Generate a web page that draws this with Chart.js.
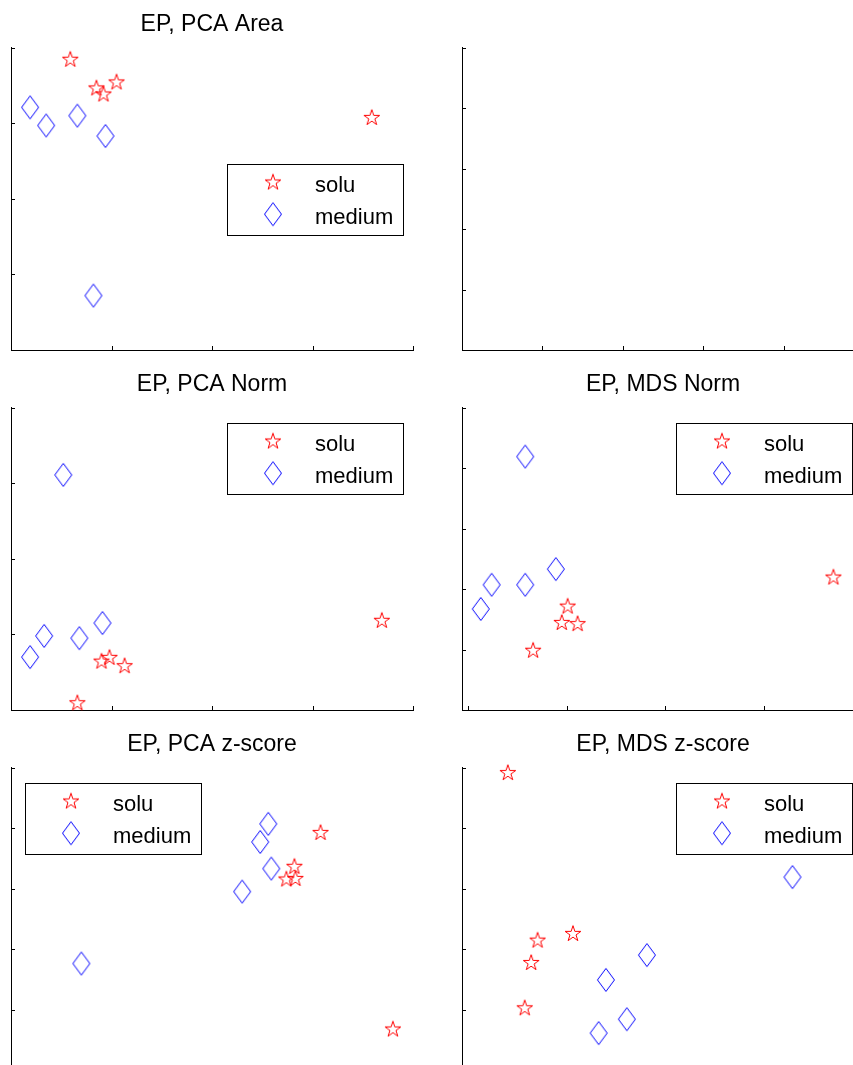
<!DOCTYPE html>
<html>
<head>
<meta charset="utf-8">
<script src="https://cdn.jsdelivr.net/npm/chart.js@4/dist/chart.umd.min.js"></script>
<style>
  html, body { margin: 0; padding: 0; background: #fff; overflow: hidden; width: 853px; height: 1065px; }
  canvas { position: absolute; }
</style>
</head>
<body>
<canvas id="c0" width="424" height="360" style="left:0;top:0"></canvas>
<canvas id="c1" width="424" height="360" style="left:451px;top:0"></canvas>
<canvas id="c2" width="424" height="360" style="left:0;top:360px"></canvas>
<canvas id="c3" width="424" height="360" style="left:451px;top:360px"></canvas>
<canvas id="c4" width="424" height="360" style="left:0;top:720px"></canvas>
<canvas id="c5" width="424" height="360" style="left:451px;top:720px"></canvas>
<script>
// datos (unidades = intervalos entre marcas)
const pcaAreaSolu   = [[0.59, 3.84], [0.85, 3.46], [0.92, 3.38], [1.05, 3.54], [3.59, 3.07]];
const pcaAreaMedium = [[0.19, 3.21], [0.35, 2.97], [0.66, 3.10], [0.94, 2.83], [0.82, 0.72]];

const pcaNormSolu   = [[0.66, 0.09], [0.90, 0.64], [0.98, 0.69], [1.13, 0.58], [3.69, 1.18]];
const pcaNormMedium = [[0.52, 3.11], [0.19, 0.70], [0.33, 0.98], [0.68, 0.95], [0.91, 1.15]];

const mdsNormSolu   = [[0.66, 0.98], [0.95, 1.44], [1.01, 1.71], [1.11, 1.42], [3.70, 2.19]];
const mdsNormMedium = [[0.58, 4.19], [0.13, 1.67], [0.24, 2.07], [0.58, 2.07], [0.89, 2.33]];

const pcaZSolu   = [[3.08, 3.92], [2.82, 3.36], [2.74, 3.15], [2.83, 3.16], [3.80, 0.67]];
const pcaZMedium = [[2.56, 4.07], [2.48, 3.77], [2.59, 3.33], [2.30, 2.95], [0.70, 1.76]];

const mdsZSolu   = [[0.57, 4.91], [0.94, 2.14], [1.38, 2.25], [0.86, 1.77], [0.78, 1.02]];
const mdsZMedium = [[4.11, 3.19], [2.30, 1.90], [1.79, 1.49], [2.05, 0.84], [1.70, 0.61]];

const ticks4 = [0, 1, 2, 3, 4];
const ticks5 = [0, 1, 2, 3, 4, 5];
const seriesNames = ['solu', 'medium'];

const FONT = '"Liberation Sans", Arial, Helvetica, sans-serif';

// marcadores estilo matlab
function makeStar(color) {
    const r = 8.3, ri = r * 0.382, size = 20;
    const c = document.createElement('canvas');
    c.width = c.height = size;
    const g = c.getContext('2d');
    g.strokeStyle = color;
    g.lineWidth = 1;
    g.beginPath();
    for (let i = 0; i < 10; i++) {
        const rad = i % 2 ? ri : r;
        const a = -Math.PI / 2 + i * Math.PI / 5;
        const px = size / 2 + rad * Math.cos(a), py = size / 2 + rad * Math.sin(a);
        if (i) g.lineTo(px, py); else g.moveTo(px, py);
    }
    g.closePath();
    g.stroke();
    return c;
}

function makeDiamond(color) {
    const w = 20, h = 26, hw = 8.5, hh = 11.5;
    const c = document.createElement('canvas');
    c.width = w; c.height = h;
    const g = c.getContext('2d');
    g.strokeStyle = color;
    g.lineWidth = 1;
    g.beginPath();
    g.moveTo(w / 2, h / 2 - hh);
    g.lineTo(w / 2 + hw, h / 2);
    g.lineTo(w / 2, h / 2 + hh);
    g.lineTo(w / 2 - hw, h / 2);
    g.closePath();
    g.stroke();
    return c;
}

const starImg = makeStar('#ff0000');
const diamondImg = makeDiamond('#0000ff');

// marcas hacia dentro, como en matlab
const inTicks = {
    id: 'inTicks',
    afterDraw(chart, args, opts) {
        const { ctx, chartArea: a, scales: { x, y } } = chart;
        ctx.save();
        ctx.strokeStyle = '#000';
        ctx.lineWidth = 1;
        ctx.beginPath();
        opts.xTicks.forEach(v => {
            const px = Math.round(x.getPixelForValue(v)) + 0.5;
            ctx.moveTo(px, a.bottom);
            ctx.lineTo(px, a.bottom - 4);
        });
        opts.yTicks.forEach(v => {
            const py = Math.round(y.getPixelForValue(v)) + 0.5;
            ctx.moveTo(a.left, py);
            ctx.lineTo(a.left + 4, py);
        });
        ctx.stroke();
        ctx.restore();
    }
};

// leyenda con recuadro dentro del area del grafico
const boxLegend = {
    id: 'boxLegend',
    afterDraw(chart, args, opts) {
        if (!opts.show) return;
        const ctx = chart.ctx, a = chart.chartArea;
        const x = Math.round(a.left + opts.x), y = Math.round(a.top + opts.y);
        ctx.save();
        ctx.fillStyle = '#fff';
        ctx.fillRect(x, y, opts.w, opts.h);
        ctx.strokeStyle = '#000';
        ctx.lineWidth = 1;
        ctx.strokeRect(x + 0.5, y + 0.5, opts.w, opts.h);
        ctx.font = '22px ' + FONT;
        ctx.textBaseline = 'alphabetic';
        ctx.fillStyle = '#000';
        chart.data.datasets.forEach((ds, i) => {
            const cy = y + 18.5 + i * 31.7;
            const img = ds.pointStyle;
            ctx.drawImage(img, x + 46 - img.width / 2, cy - img.height / 2);
            ctx.fillText(ds.label, x + 88, cy + 9.5);
        });
        ctx.restore();
    }
};

function axis(range) {
    return {
        type: 'linear',
        min: range[0],
        max: range[1],
        ticks: { display: false },
        grid: { display: false, drawTicks: false },
        border: { display: true, color: '#000', width: 1 }
    };
}

function makeChart(id, title, solu, medium, xRange, yRange, xTicks, yTicks, legendAt) {
    const ctx = document.getElementById(id).getContext('2d');
    return new Chart(ctx, {
        type: 'scatter',
        data: {
            datasets: [
                { label: seriesNames[0], data: solu.map(([x, y]) => ({ x, y })), pointStyle: starImg, pointRadius: 8, clip: false },
                { label: seriesNames[1], data: medium.map(([x, y]) => ({ x, y })), pointStyle: diamondImg, pointRadius: 8, clip: false }
            ]
        },
        options: {
            responsive: false,
            animation: false,
            events: [],
            layout: { padding: { left: 11, right: 11, top: 0, bottom: 10 } },
            scales: { x: axis(xRange), y: axis(yRange) },
            plugins: {
                legend: { display: false },
                tooltip: { enabled: false },
                title: {
                    display: true,
                    text: title,
                    color: '#000',
                    font: { family: FONT, size: 23, weight: 'normal' },
                    padding: { top: 10.5, bottom: 9.5 }
                },
                inTicks: { xTicks, yTicks },
                boxLegend: legendAt ? { show: true, x: legendAt[0], y: legendAt[1], w: 176, h: 71 } : { show: false }
            }
        },
        plugins: [inTicks, boxLegend]
    });
}

makeChart('c0', 'EP, PCA Area', pcaAreaSolu, pcaAreaMedium, [0, 4], [0, 4], ticks4, ticks4, [216, 116]);
makeChart('c1', '', [], [], [0, 5], [0, 5], ticks5, ticks5, null);
makeChart('c2', 'EP, PCA Norm', pcaNormSolu, pcaNormMedium, [0, 4], [0, 4], ticks4, ticks4, [216, 15]);
makeChart('c3', 'EP, MDS Norm', mdsNormSolu, mdsNormMedium, [-0.06, 4.01], [0, 5], ticks4, ticks5, [214, 15]);
makeChart('c4', 'EP, PCA z-score', pcaZSolu, pcaZMedium, [0, 4], [0, 5], ticks4, ticks5, [14, 15]);
makeChart('c5', 'EP, MDS z-score', mdsZSolu, mdsZMedium, [0, 5], [0, 5], ticks5, ticks5, [214, 15]);
</script>
</body>
</html>
